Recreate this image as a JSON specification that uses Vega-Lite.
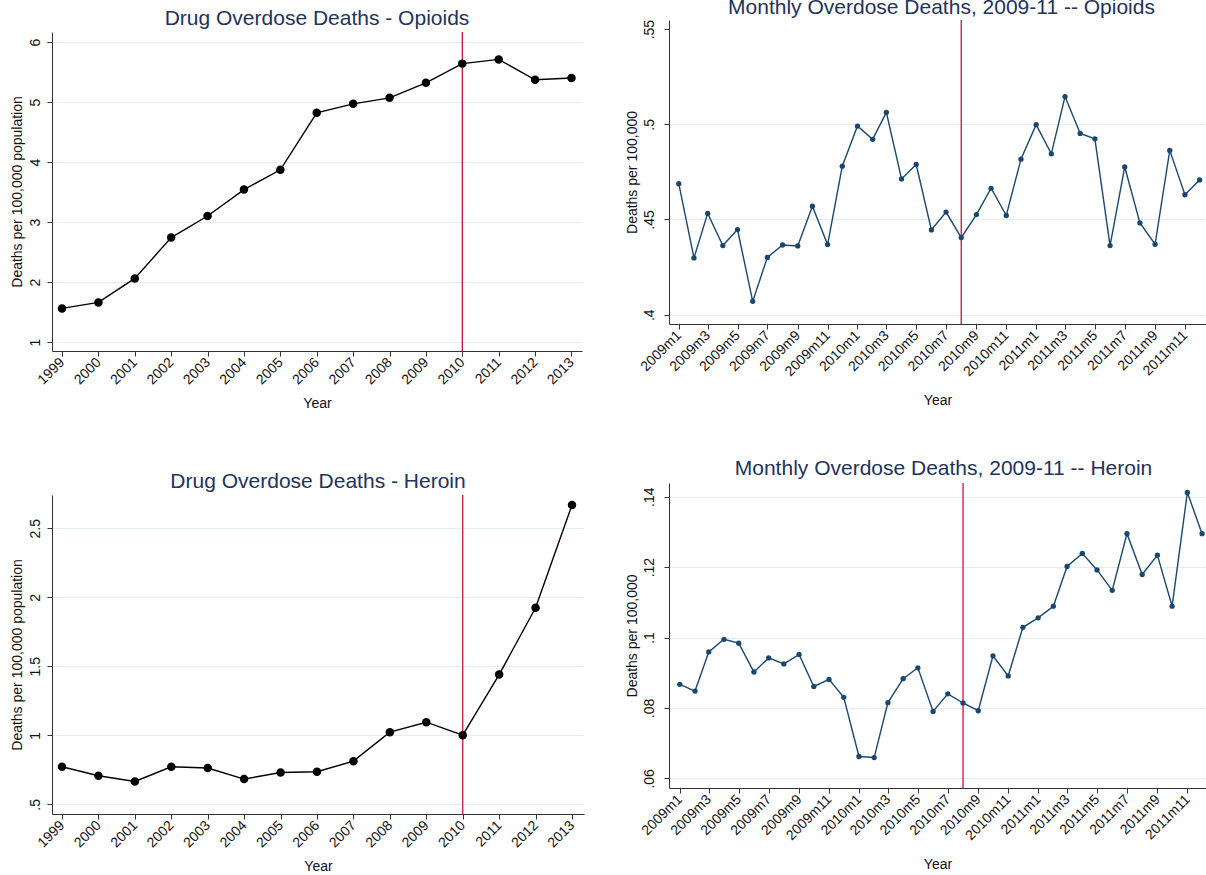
{
  "$schema": "https://vega.github.io/schema/vega-lite/v6.json",
  "background": "white",
  "padding": {"left": 10, "top": -5, "right": 0, "bottom": 0},
  "config": {
    "view": {"stroke": null},
    "font": "Liberation Sans",
    "axis": {"domainColor": "#333333", "tickColor": "#333333", "labelColor": "#111111", "titleColor": "#111111", "labelFont": "Liberation Sans", "titleFont": "Liberation Sans", "labelFontSize": 14, "titleFontSize": 14, "titleFontWeight": "normal", "tickSize": 5, "gridColor": "#e4eef1", "gridWidth": 1.2, "labelBound": false, "labelFlush": false, "labelOverlap": false},
    "title": {"font": "Liberation Sans", "fontSize": 21, "fontWeight": "normal", "color": "#22335b", "anchor": "middle", "frame": "group", "baseline": "alphabetic"}
  },
  "datasets": {
    "annual": [
      {"year": 1999, "drug": "Opioids", "rate": 1.56}, {"year": 2000, "drug": "Opioids", "rate": 1.66}, {"year": 2001, "drug": "Opioids", "rate": 2.06}, {"year": 2002, "drug": "Opioids", "rate": 2.74}, {"year": 2003, "drug": "Opioids", "rate": 3.10}, {"year": 2004, "drug": "Opioids", "rate": 3.54}, {"year": 2005, "drug": "Opioids", "rate": 3.87}, {"year": 2006, "drug": "Opioids", "rate": 4.82}, {"year": 2007, "drug": "Opioids", "rate": 4.97}, {"year": 2008, "drug": "Opioids", "rate": 5.07}, {"year": 2009, "drug": "Opioids", "rate": 5.32}, {"year": 2010, "drug": "Opioids", "rate": 5.64}, {"year": 2011, "drug": "Opioids", "rate": 5.71}, {"year": 2012, "drug": "Opioids", "rate": 5.37}, {"year": 2013, "drug": "Opioids", "rate": 5.40},
      {"year": 1999, "drug": "Heroin", "rate": 0.772}, {"year": 2000, "drug": "Heroin", "rate": 0.707}, {"year": 2001, "drug": "Heroin", "rate": 0.666}, {"year": 2002, "drug": "Heroin", "rate": 0.772}, {"year": 2003, "drug": "Heroin", "rate": 0.763}, {"year": 2004, "drug": "Heroin", "rate": 0.683}, {"year": 2005, "drug": "Heroin", "rate": 0.731}, {"year": 2006, "drug": "Heroin", "rate": 0.736}, {"year": 2007, "drug": "Heroin", "rate": 0.813}, {"year": 2008, "drug": "Heroin", "rate": 1.023}, {"year": 2009, "drug": "Heroin", "rate": 1.095}, {"year": 2010, "drug": "Heroin", "rate": 1.001}, {"year": 2011, "drug": "Heroin", "rate": 1.44}, {"year": 2012, "drug": "Heroin", "rate": 1.924}, {"year": 2013, "drug": "Heroin", "rate": 2.669}
    ],
    "monthly": [
      {"month": "2009-01-01", "drug": "Opioids", "rate": 0.4688}, {"month": "2009-02-01", "drug": "Opioids", "rate": 0.4298}, {"month": "2009-03-01", "drug": "Opioids", "rate": 0.4532}, {"month": "2009-04-01", "drug": "Opioids", "rate": 0.4363}, {"month": "2009-05-01", "drug": "Opioids", "rate": 0.4447}, {"month": "2009-06-01", "drug": "Opioids", "rate": 0.4070}, {"month": "2009-07-01", "drug": "Opioids", "rate": 0.4301}, {"month": "2009-08-01", "drug": "Opioids", "rate": 0.4366}, {"month": "2009-09-01", "drug": "Opioids", "rate": 0.4361}, {"month": "2009-10-01", "drug": "Opioids", "rate": 0.4570}, {"month": "2009-11-01", "drug": "Opioids", "rate": 0.4368}, {"month": "2009-12-01", "drug": "Opioids", "rate": 0.4780},
      {"month": "2010-01-01", "drug": "Opioids", "rate": 0.4991}, {"month": "2010-02-01", "drug": "Opioids", "rate": 0.4921}, {"month": "2010-03-01", "drug": "Opioids", "rate": 0.5063}, {"month": "2010-04-01", "drug": "Opioids", "rate": 0.4713}, {"month": "2010-05-01", "drug": "Opioids", "rate": 0.4789}, {"month": "2010-06-01", "drug": "Opioids", "rate": 0.4445}, {"month": "2010-07-01", "drug": "Opioids", "rate": 0.4539}, {"month": "2010-08-01", "drug": "Opioids", "rate": 0.4405}, {"month": "2010-09-01", "drug": "Opioids", "rate": 0.4526}, {"month": "2010-10-01", "drug": "Opioids", "rate": 0.4664}, {"month": "2010-11-01", "drug": "Opioids", "rate": 0.4521}, {"month": "2010-12-01", "drug": "Opioids", "rate": 0.4817},
      {"month": "2011-01-01", "drug": "Opioids", "rate": 0.4998}, {"month": "2011-02-01", "drug": "Opioids", "rate": 0.4845}, {"month": "2011-03-01", "drug": "Opioids", "rate": 0.5146}, {"month": "2011-04-01", "drug": "Opioids", "rate": 0.4952}, {"month": "2011-05-01", "drug": "Opioids", "rate": 0.4924}, {"month": "2011-06-01", "drug": "Opioids", "rate": 0.4363}, {"month": "2011-07-01", "drug": "Opioids", "rate": 0.4776}, {"month": "2011-08-01", "drug": "Opioids", "rate": 0.4482}, {"month": "2011-09-01", "drug": "Opioids", "rate": 0.4370}, {"month": "2011-10-01", "drug": "Opioids", "rate": 0.4863}, {"month": "2011-11-01", "drug": "Opioids", "rate": 0.4630}, {"month": "2011-12-01", "drug": "Opioids", "rate": 0.4708},
      {"month": "2009-01-01", "drug": "Heroin", "rate": 0.0867}, {"month": "2009-02-01", "drug": "Heroin", "rate": 0.0848}, {"month": "2009-03-01", "drug": "Heroin", "rate": 0.0959}, {"month": "2009-04-01", "drug": "Heroin", "rate": 0.0995}, {"month": "2009-05-01", "drug": "Heroin", "rate": 0.0984}, {"month": "2009-06-01", "drug": "Heroin", "rate": 0.0902}, {"month": "2009-07-01", "drug": "Heroin", "rate": 0.0942}, {"month": "2009-08-01", "drug": "Heroin", "rate": 0.0925}, {"month": "2009-09-01", "drug": "Heroin", "rate": 0.0952}, {"month": "2009-10-01", "drug": "Heroin", "rate": 0.0861}, {"month": "2009-11-01", "drug": "Heroin", "rate": 0.0881}, {"month": "2009-12-01", "drug": "Heroin", "rate": 0.0830},
      {"month": "2010-01-01", "drug": "Heroin", "rate": 0.0662}, {"month": "2010-02-01", "drug": "Heroin", "rate": 0.0659}, {"month": "2010-03-01", "drug": "Heroin", "rate": 0.0815}, {"month": "2010-04-01", "drug": "Heroin", "rate": 0.0883}, {"month": "2010-05-01", "drug": "Heroin", "rate": 0.0914}, {"month": "2010-06-01", "drug": "Heroin", "rate": 0.0790}, {"month": "2010-07-01", "drug": "Heroin", "rate": 0.0840}, {"month": "2010-08-01", "drug": "Heroin", "rate": 0.0814}, {"month": "2010-09-01", "drug": "Heroin", "rate": 0.0792}, {"month": "2010-10-01", "drug": "Heroin", "rate": 0.0948}, {"month": "2010-11-01", "drug": "Heroin", "rate": 0.0891}, {"month": "2010-12-01", "drug": "Heroin", "rate": 0.1029},
      {"month": "2011-01-01", "drug": "Heroin", "rate": 0.1056}, {"month": "2011-02-01", "drug": "Heroin", "rate": 0.1089}, {"month": "2011-03-01", "drug": "Heroin", "rate": 0.1202}, {"month": "2011-04-01", "drug": "Heroin", "rate": 0.1239}, {"month": "2011-05-01", "drug": "Heroin", "rate": 0.1192}, {"month": "2011-06-01", "drug": "Heroin", "rate": 0.1134}, {"month": "2011-07-01", "drug": "Heroin", "rate": 0.1295}, {"month": "2011-08-01", "drug": "Heroin", "rate": 0.1179}, {"month": "2011-09-01", "drug": "Heroin", "rate": 0.1234}, {"month": "2011-10-01", "drug": "Heroin", "rate": 0.1089}, {"month": "2011-11-01", "drug": "Heroin", "rate": 0.1412}, {"month": "2011-12-01", "drug": "Heroin", "rate": 0.1295}
    ]
  },
  "spacing": 41,
  "hconcat": [
    {
      "spacing": 0,
      "vconcat": [
        {"width": 1, "height": 13, "data": {"values": []}, "mark": "point"},
        {
          "width": 530, "height": 319,
          "title": {"text": "Drug Overdose Deaths - Opioids", "offset": 2},
          "encoding": {"x": {"field": "year", "type": "quantitative", "scale": {"domain": [1998.725, 2013.289], "nice": false, "zero": false},
                 "axis": {"values": [1999,2000,2001,2002,2003,2004,2005,2006,2007,2008,2009,2010,2011,2012,2013], "format": "d", "title": "Year", "labelAngle": -45, "labelAlign": "right", "labelBaseline": "middle", "labelPadding": 4, "titlePadding": 10, "grid": false}}},
          "layer": [
            {"data": {"values": [{"year": 2010}]}, "mark": {"type": "rule", "color": "#c8143c", "strokeWidth": 1.3}, "encoding": {}},
            {"data": {"name": "annual"}, "transform": [{"filter": "datum.drug === 'Opioids'"}],
             "mark": {"type": "line", "color": "#000000", "strokeWidth": 1.4, "point": {"filled": true, "size": 72, "color": "#000000", "opacity": 1}},
             "encoding": {
               "y": {"field": "rate", "type": "quantitative", "scale": {"domain": [0.85, 6.167], "nice": false, "zero": false},
                     "axis": {"values": [1,2,3,4,5,6], "title": "Deaths per 100,000 population", "labelAngle": -90, "labelAlign": "center", "labelBaseline": "bottom", "labelPadding": 5, "titlePadding": 4, "grid": true}}
             }}
          ]
        },
        {"width": 1, "height": 60, "data": {"values": []}, "mark": "point"},
        {
          "width": 532, "height": 319,
          "title": {"text": "Drug Overdose Deaths - Heroin", "offset": 2},
          "encoding": {"x": {"field": "year", "type": "quantitative", "scale": {"domain": [1998.7255, 2013.329], "nice": false, "zero": false},
                 "axis": {"values": [1999,2000,2001,2002,2003,2004,2005,2006,2007,2008,2009,2010,2011,2012,2013], "format": "d", "title": "Year", "labelAngle": -45, "labelAlign": "right", "labelBaseline": "middle", "labelPadding": 4, "titlePadding": 10, "grid": false}}},
          "layer": [
            {"data": {"values": [{"year": 2010}]}, "mark": {"type": "rule", "color": "#c8143c", "strokeWidth": 1.3}, "encoding": {}},
            {"data": {"name": "annual"}, "transform": [{"filter": "datum.drug === 'Heroin'"}],
             "mark": {"type": "line", "color": "#000000", "strokeWidth": 1.4, "point": {"filled": true, "size": 72, "color": "#000000", "opacity": 1}},
             "encoding": {
               "y": {"field": "rate", "type": "quantitative", "scale": {"domain": [0.43, 2.741], "nice": false, "zero": false},
                     "axis": {"values": [0.5, 1, 1.5, 2, 2.5], "labelExpr": "replace(toString(datum.value), '0.', '.')", "title": "Deaths per 100,000 population", "labelAngle": -90, "labelAlign": "center", "labelBaseline": "bottom", "labelPadding": 5, "titlePadding": 4, "grid": true}}
             }}
          ]
        }
      ]
    },
    {
      "spacing": 0,
      "vconcat": [
        {"width": 1, "height": 2, "data": {"values": []}, "mark": "point"},
        {
          "width": 537, "height": 304,
          "title": {"text": "Monthly Overdose Deaths, 2009-11 -- Opioids", "offset": 1, "dx": 4},
          "encoding": {"x": {"field": "month", "type": "temporal", "scale": {"type": "utc", "domain": [{"year": 2008, "month": 12, "date": 12, "utc": true}, {"year": 2011, "month": 12, "date": 14, "utc": true}], "nice": false},
                 "axis": {"tickCount": {"interval": "month", "step": 2}, "labelExpr": "utcFormat(datum.value, '%Y') + 'm' + (utcmonth(datum.value) + 1)", "title": "Year", "labelAngle": -45, "labelAlign": "right", "labelBaseline": "middle", "labelPadding": 4, "titlePadding": 15, "grid": false}}},
          "layer": [
            {"data": {"values": [{"month": "2010-08-01"}]}, "mark": {"type": "rule", "color": "#c8143c", "strokeWidth": 1.3}, "encoding": {}},
            {"data": {"name": "monthly"}, "transform": [{"filter": "datum.drug === 'Opioids'"}],
             "mark": {"type": "line", "color": "#1a476f", "strokeWidth": 1.4, "point": {"filled": true, "size": 28, "color": "#1a476f", "opacity": 1}},
             "encoding": {
               "y": {"field": "rate", "type": "quantitative", "scale": {"domain": [0.3951, 0.5548], "nice": false, "zero": false},
                     "axis": {"values": [0.4, 0.45, 0.5, 0.55], "labelExpr": "replace(toString(datum.value), '0.', '.')", "title": "Deaths per 100,000", "labelAngle": -90, "labelAlign": "center", "labelBaseline": "bottom", "labelPadding": 8, "titlePadding": 3, "grid": true, "gridOpacity": {"condition": {"test": "datum.value > 0.54", "value": 0}, "value": 1}}}
             }}
          ]
        },
        {"width": 1, "height": 50, "data": {"values": []}, "mark": "point"},
        {
          "width": 537, "height": 305,
          "title": {"text": "Monthly Overdose Deaths, 2009-11 -- Heroin", "offset": 3, "dx": 6},
          "encoding": {"x": {"field": "month", "type": "temporal", "scale": {"type": "utc", "domain": [{"year": 2008, "month": 12, "date": 10, "utc": true}, {"year": 2011, "month": 12, "date": 9, "utc": true}], "nice": false},
                 "axis": {"tickCount": {"interval": "month", "step": 2}, "labelExpr": "utcFormat(datum.value, '%Y') + 'm' + (utcmonth(datum.value) + 1)", "title": "Year", "labelAngle": -45, "labelAlign": "right", "labelBaseline": "middle", "labelPadding": 4, "titlePadding": 15, "grid": false}}},
          "layer": [
            {"data": {"values": [{"month": "2010-08-01"}]}, "mark": {"type": "rule", "color": "#c8143c", "strokeWidth": 1.3}, "encoding": {}},
            {"data": {"name": "monthly"}, "transform": [{"filter": "datum.drug === 'Heroin'"}],
             "mark": {"type": "line", "color": "#1a476f", "strokeWidth": 1.4, "point": {"filled": true, "size": 28, "color": "#1a476f", "opacity": 1}},
             "encoding": {
               "y": {"field": "rate", "type": "quantitative", "scale": {"domain": [0.05725, 0.1439], "nice": false, "zero": false},
                     "axis": {"values": [0.06, 0.08, 0.1, 0.12, 0.14], "labelExpr": "replace(toString(datum.value), '0.', '.')", "title": "Deaths per 100,000", "labelAngle": -90, "labelAlign": "center", "labelBaseline": "bottom", "labelPadding": 8, "titlePadding": 3, "grid": true}}
             }}
          ]
        }
      ]
    }
  ]
}
